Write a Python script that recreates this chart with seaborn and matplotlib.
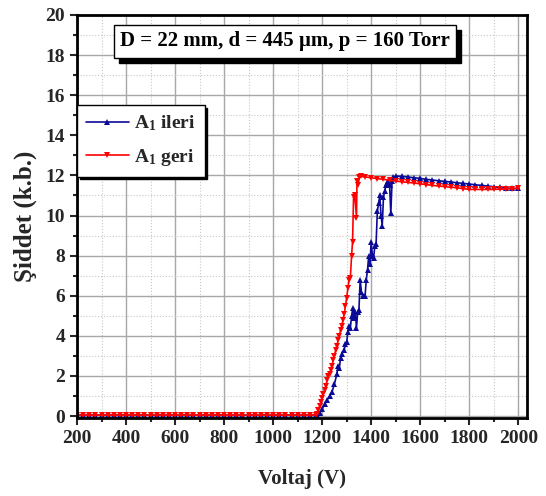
import seaborn as sns
import matplotlib.pyplot as plt
import matplotlib.transforms as mtransforms
from matplotlib.ticker import MultipleLocator
import pandas as pd

# A1 ileri (forward sweep)
ileri_v = [200, 225, 250, 275, 300, 325, 350, 375, 400, 425, 450, 475, 500, 525, 550, 575,
           600, 625, 650, 675, 700, 725, 750, 775, 800, 825, 850, 875, 900, 925, 950, 975,
           1000, 1025, 1050, 1075, 1100, 1125, 1150, 1175, 1180, 1190, 1200, 1210, 1220, 1230,
           1240, 1250, 1260, 1265, 1270, 1275, 1280, 1290, 1295, 1300, 1305, 1310, 1315, 1320,
           1325, 1330, 1335, 1340, 1345, 1350, 1355, 1360, 1365, 1370, 1375, 1380, 1385, 1390,
           1395, 1400, 1405, 1410, 1415, 1420, 1425, 1430, 1435, 1440, 1445, 1450, 1455, 1460,
           1465, 1470, 1475, 1480, 1485, 1490, 1500, 1525, 1550, 1575, 1600, 1625, 1650, 1675,
           1700, 1725, 1750, 1775, 1800, 1825, 1850, 1875, 1900, 1925, 1950, 1975, 2000]
ileri_i = [0.05, 0.05, 0.05, 0.05, 0.05, 0.05, 0.05, 0.05, 0.05, 0.05, 0.05, 0.05, 0.05, 0.05,
           0.05, 0.05, 0.05, 0.05, 0.05, 0.05, 0.05, 0.05, 0.05, 0.05, 0.05, 0.05, 0.05, 0.05,
           0.05, 0.05, 0.05, 0.05, 0.05, 0.05, 0.05, 0.05, 0.05, 0.05, 0.05, 0.05, 0.05, 0.15,
           0.35, 0.6, 0.8, 1.0, 1.2, 1.6, 2.1, 2.5, 2.4, 2.9, 3.1, 3.3, 3.6, 3.7, 4.2, 4.5, 4.4,
           5.0, 5.4, 4.9, 5.2, 4.4, 5.2, 5.3, 6.8, 6.2, 6.0, 6.0, 6.0, 6.8, 7.3, 8.0, 7.6, 8.7,
           8.0, 7.9, 8.5, 8.6, 10.2, 10.6, 11.0, 10.0, 9.5, 10.9, 11.2, 11.5, 11.6, 11.7, 11.5,
           10.1, 11.7, 11.9, 11.97, 11.95, 11.92, 11.88, 11.85, 11.8, 11.77, 11.73, 11.7, 11.67,
           11.63, 11.6, 11.57, 11.53, 11.5, 11.47, 11.43, 11.4, 11.37, 11.35, 11.35]

# A1 geri (reverse sweep)
geri_v = [200, 225, 250, 275, 300, 325, 350, 375, 400, 425, 450, 475, 500, 525, 550, 575,
          600, 625, 650, 675, 700, 725, 750, 775, 800, 825, 850, 875, 900, 925, 950, 975,
          1000, 1025, 1050, 1075, 1100, 1125, 1150, 1175, 1180, 1185, 1190, 1195, 1200, 1205,
          1210, 1215, 1220, 1225, 1230, 1235, 1240, 1245, 1250, 1255, 1260, 1265, 1270, 1275,
          1280, 1285, 1290, 1295, 1300, 1305, 1310, 1315, 1320, 1324, 1328, 1333, 1340, 1342,
          1346, 1352, 1360, 1375, 1400, 1425, 1450, 1475, 1500, 1525, 1550, 1575, 1600, 1625,
          1650, 1675, 1700, 1725, 1750, 1775, 1800, 1825, 1850, 1875, 1900, 1925, 1950, 1975,
          2000]
geri_i = [0.05, 0.05, 0.05, 0.05, 0.05, 0.05, 0.05, 0.05, 0.05, 0.05, 0.05, 0.05, 0.05, 0.05,
          0.05, 0.05, 0.05, 0.05, 0.05, 0.05, 0.05, 0.05, 0.05, 0.05, 0.05, 0.05, 0.05, 0.05,
          0.05, 0.05, 0.05, 0.05, 0.05, 0.05, 0.05, 0.05, 0.05, 0.05, 0.05, 0.05, 0.1, 0.3, 0.5,
          0.7, 0.9, 1.1, 1.3, 1.5, 1.8, 2.0, 2.1, 2.3, 2.5, 2.8, 3.0, 3.3, 3.5, 3.8, 4.0, 4.3,
          4.5, 4.8, 5.1, 5.5, 5.9, 6.4, 6.8, 6.9, 8.0, 8.7, 10.9, 11.0, 9.9, 11.7, 11.5, 11.9,
          11.95, 11.92, 11.88, 11.84, 11.8, 11.76, 11.72, 11.68, 11.65, 11.62, 11.58, 11.54,
          11.5, 11.47, 11.44, 11.41, 11.38, 11.34, 11.3, 11.3, 11.3, 11.3, 11.3, 11.31, 11.32,
          11.34, 11.35]

sns.set_style("ticks")
plt.rcParams['font.family'] = ['Liberation Serif', 'DejaVu Serif']
plt.rcParams['font.weight'] = 'bold'
plt.rcParams['mathtext.fontset'] = 'custom'
plt.rcParams['mathtext.rm'] = 'Liberation Serif:bold'
plt.rcParams['mathtext.it'] = 'Liberation Serif:bold'
plt.rcParams['mathtext.bf'] = 'Liberation Serif:bold'

ileri = pd.DataFrame({"Voltaj": ileri_v, "Siddet": ileri_i})
geri = pd.DataFrame({"Voltaj": geri_v, "Siddet": geri_i})

fig = plt.figure(figsize=(5.46, 4.96), dpi=100)
ax = fig.add_axes([0.141, 0.157, 0.824, 0.813])

sns.lineplot(data=ileri, x="Voltaj", y="Siddet", ax=ax, color="#0a0a96", marker="^",
             markersize=4, markeredgewidth=0, linewidth=1.2, sort=False,
             label="A$_1$ ileri")
sns.lineplot(data=geri, x="Voltaj", y="Siddet", ax=ax, color="#ff0000", marker="v",
             markersize=4, markeredgewidth=0, linewidth=1.2, sort=False,
             label="A$_1$ geri")

ax.set_xlim(200, 2035)
ax.set_ylim(-0.1, 20)
ax.xaxis.set_major_locator(MultipleLocator(200))
ax.xaxis.set_minor_locator(MultipleLocator(100))
ax.yaxis.set_major_locator(MultipleLocator(2))
ax.yaxis.set_minor_locator(MultipleLocator(1))
ax.grid(which="major", color="#a8a8a8", linewidth=1, linestyle="-")
ax.grid(which="minor", color="#c8c8c8", linewidth=0.8, linestyle=":")
ax.set_axisbelow(True)

for s in ax.spines.values():
    s.set_linewidth(2)
    s.set_color("black")
ax.tick_params(which="major", length=5, width=1.5, labelsize=14, direction="out")
ax.tick_params(which="minor", length=3, width=1.5, direction="out")
for lab in ax.get_xticklabels() + ax.get_yticklabels():
    lab.set_fontweight("bold")

ax.set_xlabel("Voltaj (V)", fontsize=15, fontweight="bold", labelpad=16)
ax.set_ylabel("Şiddet (k.b.)", fontsize=18, fontweight="bold", labelpad=6)

# legend with drop shadow
leg = ax.legend(loc="upper left", bbox_to_anchor=(0.0, 0.777), borderaxespad=0,
                fancybox=False, shadow={"color": "black", "alpha": 1}, edgecolor="black",
                framealpha=1, prop={"size": 14, "weight": "bold"}, handlelength=2.2,
                handletextpad=0.3, labelspacing=0.7, borderpad=0.45)
leg.get_frame().set_linewidth(1)

# annotation box with shadow
txt = "D = 22 mm, d = 445 µm, p = 160 Torr"
shadow_tr = mtransforms.offset_copy(ax.transAxes, fig=fig, x=5, y=-5, units="dots")
ax.text(0.462, 0.934, txt, transform=shadow_tr, ha="center", va="center", fontsize=15,
        fontweight="bold", color="black",
        bbox=dict(boxstyle="square,pad=0.3", facecolor="black", edgecolor="black"))
ax.text(0.462, 0.934, txt, transform=ax.transAxes, ha="center", va="center", fontsize=15,
        fontweight="bold", color="black",
        bbox=dict(boxstyle="square,pad=0.3", facecolor="white", edgecolor="black", lw=1))

fig.savefig("out.png", dpi=100)
